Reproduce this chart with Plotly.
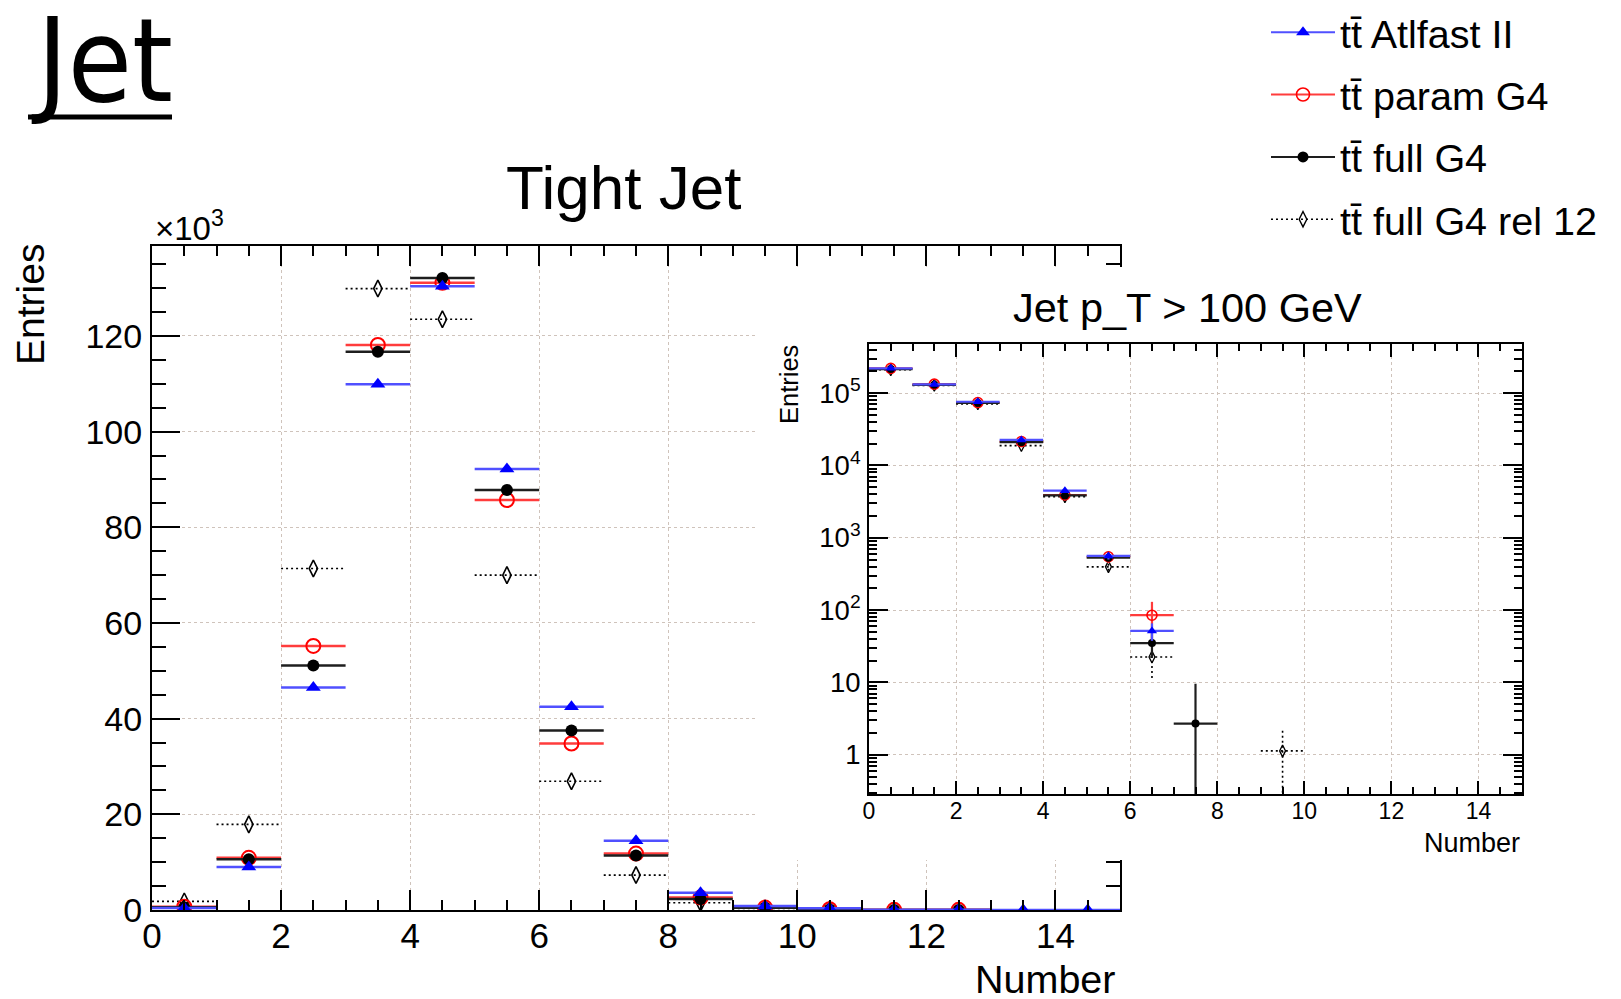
import plotly.graph_objects as go

# ---------------- data ----------------
bin_centers = [0.5, 1.5, 2.5, 3.5, 4.5, 5.5, 6.5, 7.5, 8.5, 9.5, 10.5, 11.5, 12.5, 13.5, 14.5]
bin_half_width = 0.5

# Tight Jet (entries x 10^3)
tight_atlfast = [0.4, 9.0, 46.5, 109.9, 130.4, 92.2, 42.5, 14.5, 3.6, 0.85, 0.35, 0.03, 0.03, 0.02, 0.02]
tight_param = [0.7, 10.9, 55.2, 118.1, 131.1, 85.7, 34.8, 11.8, 2.6, 0.5, 0.15, 0.03, 0.03, None, None]
tight_full = [0.6, 10.6, 51.1, 116.7, 132.1, 87.8, 37.5, 11.4, 2.3, 0.45, 0.1, 0.02, 0.02, None, None]
tight_rel12 = [1.8, 17.9, 71.4, 129.9, 123.5, 70.0, 26.9, 7.3, 1.5, 0.3, 0.1, None, None, None, None]

# Jet pT > 100 GeV (entries)
pt_atlfast = [2.2e5, 1.32e5, 7.6e4, 2.25e4, 4480, 560, 51.5, None, None, None, None, None, None, None, None]
pt_param = [2.2e5, 1.33e5, 7.4e4, 2.14e4, 3900, 546, 85, None, None, None, None, None, None, None, None]
pt_full = [2.15e5, 1.3e5, 7.3e4, 2.1e4, 3850, 530, 35, 2.7, None, None, None, None, None, None, None]
pt_rel12 = [2.1e5, 1.28e5, 7.1e4, 1.88e4, 3700, 396, 22.5, None, None, 1.13, None, None, None, None, None]

pt_atlfast_err = [460, 360, 275, 150, 67, 60, 14, 0, 0, 0, 0, 0, 0, 0, 0]
pt_param_err = [460, 360, 275, 150, 62, 100, 45, 0, 0, 0, 0, 0, 0, 0, 0]
pt_full_err_up = [460, 360, 275, 150, 62, 60, 13, 6.9, 0, 0, 0, 0, 0, 0, 0]
pt_full_err_dn = [460, 360, 275, 150, 62, 60, 13, 2.7, 0, 0, 0, 0, 0, 0, 0]
pt_rel12_err_up = [460, 360, 275, 150, 60, 45, 11, 0, 0, 1.17, 0, 0, 0, 0, 0]
pt_rel12_err_dn = [460, 360, 275, 150, 60, 45, 11, 0, 0, 1.13, 0, 0, 0, 0, 0]

series_names = ["tt\u0304 Atlfast II", "tt\u0304 param G4", "tt\u0304 full G4", "tt\u0304 full G4 rel 12"]

# ---------------- style ----------------
W, H = 1621, 999
FONT = "Liberation Sans, Arial, Helvetica, sans-serif"
BLUE, BLUE_L = "#0000ff", "#5050ff"
RED, RED_L = "#ff0000", "#ff3c3c"
BLACK, BLACK_L = "#000000", "#1e1e1e"
GRID = "#cfc3bb"


def px(xp):
    return xp / W


def py(yp):
    return 1 - yp / H


def hsegs(xc, vals, half):
    xs, ys = [], []
    for x, v in zip(xc, vals):
        if v is None:
            continue
        xs += [x - half, x + half, None]
        ys += [v, v, None]
    return xs, ys


def vsegs(xc, vals, eup, edn):
    xs, ys = [], []
    for x, v, u, d in zip(xc, vals, eup, edn):
        if v is None or (u == 0 and d == 0):
            continue
        lo = v - d if v - d > 0 else v * 1e-3
        xs += [x, x, None]
        ys += [lo, v + u, None]
    return xs, ys


fig = go.Figure()


def add_series(xa, ya, small, data):
    lw = 2.2 if small else 2.5
    (atl, par, ful, r12, errs) = data
    # rel 12 : dotted horizontal bars + open diamonds
    sx, sy = hsegs(bin_centers, r12, bin_half_width)
    fig.add_trace(go.Scatter(x=sx, y=sy, mode="lines", xaxis=xa, yaxis=ya,
                             line=dict(color=BLACK, width=1.6, dash="2px,3px"),
                             showlegend=False, hoverinfo="skip"))
    if errs is not None:
        vx, vy = vsegs(bin_centers, r12, errs["r12u"], errs["r12d"])
        fig.add_trace(go.Scatter(x=vx, y=vy, mode="lines", xaxis=xa, yaxis=ya,
                                 line=dict(color=BLACK, width=1.6, dash="2px,3px"),
                                 showlegend=False, hoverinfo="skip"))
    fig.add_trace(go.Scatter(x=bin_centers, y=r12, mode="markers", xaxis=xa, yaxis=ya,
                             marker=dict(symbol="diamond-tall-open", size=8.5 if small else 12,
                                         color=BLACK, line=dict(width=1.3 if small else 1.6, color=BLACK)),
                             showlegend=False))

    def solid(vals, mcol, lcol, symbol, size, eu=None, ed=None, mline=None):
        kw = {}
        if eu is not None:
            kw["error_y"] = dict(type="data", array=eu, arrayminus=ed, symmetric=False,
                                 width=0, thickness=lw, color=lcol)
        fig.add_trace(go.Scatter(
            x=bin_centers, y=vals, mode="markers", xaxis=xa, yaxis=ya,
            error_x=dict(type="constant", value=bin_half_width, width=0, thickness=lw, color=lcol),
            marker=dict(symbol=symbol, size=size, color=mcol,
                        line=mline if mline else dict(width=0)),
            showlegend=False, **kw))

    if errs is not None:
        solid(par, RED, RED_L, "circle-open", 10, errs["par"], errs["par"],
              dict(width=1.6, color=RED))
        solid(ful, BLACK, BLACK_L, "circle", 8, errs["fulu"], errs["fuld"])
        solid(atl, BLUE, BLUE_L, "triangle-up", 9, errs["atl"], errs["atl"])
    else:
        solid(par, RED, RED_L, "circle-open", 14, mline=dict(width=2, color=RED))
        solid(ful, BLACK, BLACK_L, "circle", 12)
        solid(atl, BLUE, BLUE_L, "triangle-up", 13)


# main plot
add_series("x", "y", False, (tight_atlfast, tight_param, tight_full, tight_rel12, None))

# white pad behind the inset (its own hidden subplot)
fig.add_trace(go.Scatter(x=[None], y=[None], xaxis="x2", yaxis="y2", showlegend=False, hoverinfo="skip"))

# inset
add_series("x3", "y3", True, (pt_atlfast, pt_param, pt_full, pt_rel12,
                               dict(atl=pt_atlfast_err, par=pt_param_err, fulu=pt_full_err_up,
                                    fuld=pt_full_err_dn, r12u=pt_rel12_err_up, r12d=pt_rel12_err_dn)))

# legend entries
leg_styles = [
    dict(line=dict(color=BLUE_L, width=2), marker=dict(symbol="triangle-up", size=12, color=BLUE)),
    dict(line=dict(color=RED_L, width=2), marker=dict(symbol="circle-open", size=13, color=RED, line=dict(width=1.6, color=RED))),
    dict(line=dict(color=BLACK_L, width=2), marker=dict(symbol="circle", size=11, color=BLACK)),
    dict(line=dict(color=BLACK, width=1.5, dash="2px,3px"), marker=dict(symbol="diamond-tall-open", size=11, color=BLACK, line=dict(width=1.4, color=BLACK))),
]
for i, (nm, st) in enumerate(zip(series_names, leg_styles)):
    fig.add_trace(go.Scatter(x=[None], y=[None], mode="lines+markers", name=nm,
                             legendgroup="g%d" % i, showlegend=True, **st))

# ---------------- axes ----------------
common_tick = dict(ticks="inside", tickcolor="black", tickwidth=2, showline=True, linecolor="black",
                   linewidth=2, mirror="ticks", zeroline=False, showgrid=True, gridcolor=GRID,
                   gridwidth=1, griddash="dot", fixedrange=True, automargin=False)

main_x0, main_x1, main_t, main_b = 152, 1120, 246, 910
ins_x0, ins_x1, ins_t, ins_b = 869, 1522, 344, 794
pad_x0, pad_x1, pad_t, pad_b = 755, 1621, 267, 860

fig.update_layout(
    width=W, height=H, margin=dict(l=0, r=0, t=0, b=0, pad=0, autoexpand=False),
    paper_bgcolor="white", plot_bgcolor="white",
    font=dict(family=FONT, color="black"),
    xaxis=dict(domain=[px(main_x0), px(main_x1)], range=[0, 15], tick0=0, dtick=2, ticklen=20,
               tickfont=dict(size=35), anchor="y", ticklabelstandoff=-6,
               minor=dict(dtick=0.5, ticklen=10, tickwidth=2, ticks="inside", tickcolor="black", showgrid=False),
               **common_tick),
    yaxis=dict(domain=[py(main_b), py(main_t)], range=[0, 138.8], tick0=0, dtick=20, ticklen=28,
               tickfont=dict(size=34), anchor="x", ticklabelstandoff=1,
               minor=dict(dtick=5, ticklen=14, tickwidth=2, ticks="inside", tickcolor="black", showgrid=False),
               **common_tick),
    xaxis2=dict(domain=[px(pad_x0), px(pad_x1)], visible=False, anchor="y2", range=[0, 1],
                fixedrange=True, automargin=False),
    yaxis2=dict(domain=[py(pad_b), py(pad_t)], visible=False, anchor="x2", range=[0, 1],
                fixedrange=True, automargin=False),
    xaxis3=dict(domain=[px(ins_x0), px(ins_x1)], range=[0, 15], tick0=0, dtick=2, ticklen=13,
                tickfont=dict(size=23), anchor="y3", ticklabelstandoff=-5,
                minor=dict(dtick=0.5, ticklen=7, tickwidth=2, ticks="inside", tickcolor="black", showgrid=False),
                **common_tick),
    yaxis3=dict(domain=[py(ins_b), py(ins_t)], type="log", range=[-0.543, 5.679], dtick=1, ticklen=19,
                exponentformat="power", tickfont=dict(size=22), anchor="x3", ticklabelstandoff=2,
                minor=dict(dtick="D1", ticklen=8, tickwidth=2, ticks="inside", tickcolor="black", showgrid=False),
                **common_tick),
    legend=dict(x=px(1266), y=py(0), xanchor="left", yanchor="top", font=dict(size=39.5, family=FONT),
                bgcolor="rgba(0,0,0,0)", itemwidth=64, tracegroupgap=8, traceorder="grouped"),
    showlegend=True,
)

# ---------------- texts ----------------
ann = []


def text(t, x, y, size, angle=0, xanchor="center", family=FONT):
    ann.append(dict(text=t, x=px(x), y=py(y), xref="paper", yref="paper", showarrow=False,
                    xanchor=xanchor, yanchor="middle", textangle=angle,
                    font=dict(size=size, family=family, color="black")))


text("Jet", 102, 61, 116, family="DejaVu Sans Condensed, DejaVu Sans, sans-serif")
text("Tight Jet", 623, 188, 62)
text("\u00d710<sup>3</sup>", 189, 226, 33)
text("Entries", 30, 305, 39, angle=-90)
text("Number", 1118, 979, 39.5, xanchor="right")
text("Jet p_T > 100 GeV", 1187, 308, 41.5)
text("Entries", 789, 385, 25.5, angle=-90)
text("Number", 1522, 843, 27, xanchor="right")
fig.update_layout(annotations=ann)

fig.add_shape(type="line", xref="paper", yref="paper", x0=px(28), x1=px(172), y0=py(117), y1=py(117),
              line=dict(color="black", width=5), layer="above")

fig.write_html("out.html")
